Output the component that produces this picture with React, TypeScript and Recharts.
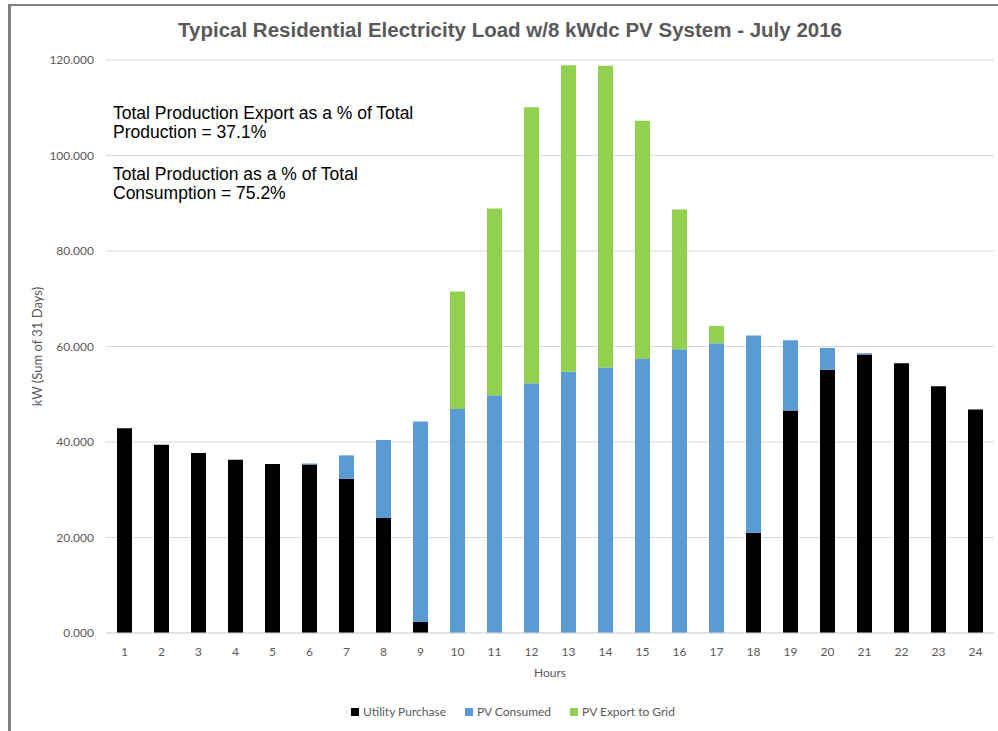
import { BarChart, Bar, XAxis, YAxis, CartesianGrid, Legend } from "recharts";

const hours = ["1", "2", "3", "4", "5", "6", "7", "8", "9", "10", "11", "12", "13", "14", "15", "16", "17", "18", "19", "20", "21", "22", "23", "24"];

// stacked segments, kW summed over 31 days
const utilityPurchase = [42.9, 39.4, 37.7, 36.3, 35.4, 35.3, 32.3, 24.1, 2.3, 0, 0, 0, 0, 0, 0, 0, 0, 21.0, 46.6, 55.1, 58.3, 56.5, 51.7, 46.8];
const pvConsumed = [0, 0, 0, 0, 0, 0.2, 4.9, 16.3, 42.0, 46.9, 49.8, 52.3, 54.7, 55.6, 57.4, 59.4, 60.7, 41.3, 14.7, 4.6, 0.3, 0, 0, 0];
const pvExport = [0, 0, 0, 0, 0, 0, 0, 0, 0, 24.6, 39.1, 57.8, 64.2, 63.2, 49.9, 29.3, 3.6, 0, 0, 0, 0, 0, 0, 0];

const yTicks = [0, 20, 40, 60, 80, 100, 120];

const notes = [
  ["Total Production Export as a % of Total", "Production = 37.1%"],
  ["Total Production as a % of Total", "Consumption = 75.2%"],
];

const SERIES = [
  { key: "utility", name: "Utility Purchase", color: "#000000" },
  { key: "consumed", name: "PV Consumed", color: "#5B9BD5" },
  { key: "exported", name: "PV Export to Grid", color: "#92D050" },
];

const data = hours.map((h, i) => ({
  hour: h,
  utility: utilityPurchase[i],
  consumed: pvConsumed[i],
  exported: pvExport[i],
}));

const AXIS_FONT = "Lato, 'Open Sans', sans-serif";
const GREY = "#595959";

const LegendContent = () => (
  <div style={{ display: "flex", justifyContent: "center", gap: 19, fontFamily: AXIS_FONT, fontSize: 12, color: GREY }}>
    {SERIES.map((s) => (
      <div key={s.key} style={{ display: "flex", alignItems: "center" }}>
        <span style={{ width: 8, height: 8, background: s.color, marginRight: 4, display: "inline-block" }} />
        {s.name}
      </div>
    ))}
  </div>
);

export default function App() {
  return (
    <div style={{ position: "absolute", left: 0, top: 0, width: 998, height: 731, background: "#fff" }}>
      {/* frame of the Excel chart area */}
      <div style={{ position: "absolute", left: 8, top: 4, right: 0, bottom: 0, borderTop: "2px solid #7f7f7f", borderLeft: "3px solid #7f7f7f" }} />

      <BarChart
        width={998}
        height={731}
        data={data}
        margin={{ top: 60, right: 4, bottom: 54, left: 6 }}
        barSize={15}
        style={{ position: "absolute", left: 0, top: 0 }}
      >
        <text
          x={510}
          y={37}
          textAnchor="middle"
          textLength={664}
          lengthAdjust="spacingAndGlyphs"
          style={{ fontFamily: "'Liberation Sans Narrow', 'Liberation Sans', Arial, sans-serif", fontSize: 20, fontWeight: "bold", fill: GREY }}
        >
          Typical Residential Electricity Load w/8 kWdc PV System - July 2016
        </text>
        <CartesianGrid vertical={false} stroke="#d9d9d9" strokeWidth={1} />
        <XAxis
          dataKey="hour"
          height={44}
          tickLine={false}
          axisLine={{ stroke: "#d9d9d9" }}
          tickMargin={8}
          tick={{ fontFamily: AXIS_FONT, fontSize: 12, fill: GREY }}
          interval={0}
          label={{ value: "Hours", position: "insideBottom", offset: 0, style: { fontFamily: AXIS_FONT, fontSize: 12, fill: GREY } }}
        />
        <YAxis
          width={100}
          domain={[0, 120]}
          ticks={yTicks}
          tickFormatter={(v: number) => v.toFixed(3)}
          axisLine={false}
          tickLine={false}
          tickMargin={6}
          tick={{ fontFamily: AXIS_FONT, fontSize: 12, fill: GREY }}
          label={{ value: "kW (Sum of 31 Days)", angle: -90, position: "insideLeft", offset: 31, style: { textAnchor: "middle", fontFamily: AXIS_FONT, fontSize: 13, fill: GREY } }}
        />
        <Legend
          layout="horizontal"
          align="center"
          verticalAlign="middle"
          content={<LegendContent />}
          wrapperStyle={{ top: 704, left: 14, width: 998, height: 18 }}
        />
        {SERIES.map((s) => (
          <Bar key={s.key} dataKey={s.key} name={s.name} stackId="a" fill={s.color} isAnimationActive={false} />
        ))}
      </BarChart>

      {notes.map((lines, i) => (
        <div
          key={i}
          style={{
            position: "absolute",
            left: 113,
            top: 104 + i * 61,
            fontFamily: "'Liberation Sans', Arial, sans-serif",
            fontSize: 17.5,
            lineHeight: "18.5px",
            color: "#000",
          }}
        >
          {lines.map((l) => (
            <div key={l}>{l}</div>
          ))}
        </div>
      ))}
    </div>
  );
}
